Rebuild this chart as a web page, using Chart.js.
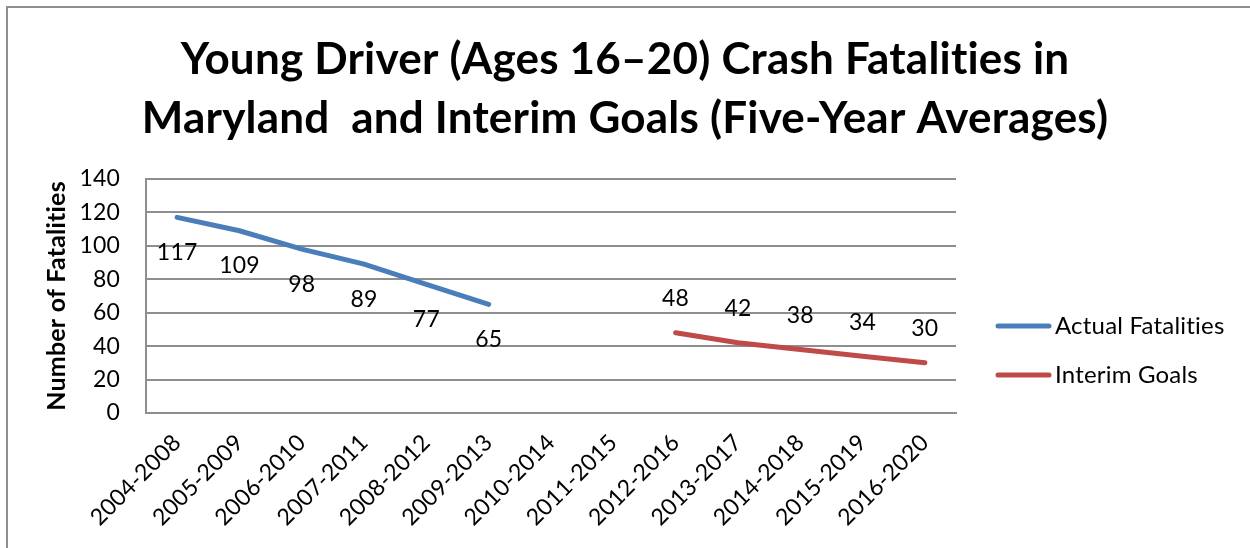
<!DOCTYPE html>
<html>
<head>
<meta charset="utf-8">
<script src="https://cdn.jsdelivr.net/npm/chart.js@4.4.0/dist/chart.umd.min.js"></script>
<style>
  html, body { margin: 0; padding: 0; background: #fff; }
  #wrap { position: relative; width: 1250px; height: 548px; }
  #frame { position: absolute; left: 6px; top: 6px; width: 1300px; height: 600px; border: 2px solid #8e8e8e; box-sizing: border-box; }
  canvas { position: absolute; left: 0; top: 0; }
</style>
</head>
<body>
<div id="wrap">
  <div id="frame"></div>
  <canvas id="chart" width="1250" height="548"></canvas>
</div>
<script>
const periods = ["2004-2008", "2005-2009", "2006-2010", "2007-2011", "2008-2012", "2009-2013",
  "2010-2014", "2011-2015", "2012-2016", "2013-2017", "2014-2018", "2015-2019", "2016-2020"];
const actual = [117, 109, 98, 89, 77, 65, null, null, null, null, null, null, null];
const goals = [null, null, null, null, null, null, null, null, 48, 42, 38, 34, 30];
const yTicks = [0, 20, 40, 60, 80, 100, 120, 140];

const FONT = "Lato, 'Open Sans', sans-serif";

// tiny letter spacing switches off Lato's "ti" ligature
const noLigatures = {
  id: "noLigatures",
  beforeDraw(chart) { chart.ctx.letterSpacing = "0.2px"; }
};

// value labels: actual below the point, goals above
const valueLabels = {
  id: "valueLabels",
  afterDatasetsDraw(chart) {
    const ctx = chart.ctx;
    ctx.save();
    ctx.font = "23px " + FONT;
    ctx.fillStyle = "#000";
    ctx.textAlign = "center";
    ctx.textBaseline = "middle";
    chart.data.datasets.forEach((ds, i) => {
      const meta = chart.getDatasetMeta(i);
      meta.data.forEach((pt, j) => {
        const v = ds.data[j];
        if (v == null) return;
        const dy = i === 0 ? 35 : -34;
        ctx.fillText(String(v), pt.x, pt.y + dy);
      });
    });
    ctx.restore();
  }
};

// legend drawn by hand so it sits where the original one does
const sideLegend = {
  id: "sideLegend",
  afterDraw(chart) {
    const ctx = chart.ctx;
    const rows = [326, 375];
    ctx.save();
    ctx.font = "24px " + FONT;
    ctx.textAlign = "left";
    ctx.textBaseline = "middle";
    chart.data.datasets.forEach((ds, i) => {
      const y = rows[i];
      ctx.strokeStyle = ds.borderColor;
      ctx.lineWidth = 5;
      ctx.lineCap = "round";
      ctx.beginPath();
      ctx.moveTo(998, y);
      ctx.lineTo(1049, y);
      ctx.stroke();
      ctx.fillStyle = "#000";
      ctx.fillText(ds.label, 1055, y);
    });
    ctx.restore();
  }
};

new Chart(document.getElementById("chart"), {
  type: "line",
  data: {
    labels: periods,
    datasets: [
      {
        label: "Actual Fatalities",
        data: actual,
        borderColor: "#4a7ebb",
        backgroundColor: "#4a7ebb",
        borderWidth: 5,
        borderCapStyle: "round",
        pointRadius: 0,
        tension: 0
      },
      {
        label: "Interim Goals",
        data: goals,
        borderColor: "#be4b48",
        backgroundColor: "#be4b48",
        borderWidth: 5,
        borderCapStyle: "round",
        pointRadius: 0,
        tension: 0
      }
    ]
  },
  options: {
    responsive: false,
    animation: false,
    layout: { padding: 0 },
    plugins: {
      title: {
        display: true,
        text: ["Young Driver (Ages 16\u201320) Crash Fatalities in", "Maryland  and Interim Goals (Five-Year Averages)"],
        color: "#000",
        font: { family: FONT, size: 44, weight: "bold", lineHeight: 1.34 },
        padding: { top: 30, bottom: 31 }
      },
      legend: { display: false },
      tooltip: { enabled: false }
    },
    scales: {
      x: {
        offset: true,
        grid: { display: false, drawTicks: false },
        border: { color: "#8e8e8e", width: 2 },
        ticks: {
          color: "#000",
          font: { family: FONT, size: 23 },
          minRotation: 45,
          maxRotation: 45,
          padding: 16,
          autoSkip: false
        },
        afterFit(scale) { scale.height = 135; }
      },
      y: {
        min: 0,
        max: 140,
        afterBuildTicks(scale) { scale.ticks = yTicks.map(v => ({ value: v })); },
        grid: { color: "#8e8e8e", lineWidth: 2, drawTicks: false },
        border: { color: "#8e8e8e", width: 2 },
        ticks: {
          color: "#000",
          font: { family: FONT, size: 23 },
          padding: 26
        },
        title: {
          display: true,
          text: "Number of Fatalities",
          color: "#000",
          font: { family: FONT, size: 25, weight: "bold" },
          padding: { top: 42, bottom: 0 }
        },
        afterFit(scale) { scale.width = 146; }
      },
      // empty right-hand axis that keeps room for the legend
      legendSpace: {
        position: "right",
        min: 0,
        max: 140,
        grid: { display: false, drawTicks: false },
        border: { display: false },
        ticks: { display: false },
        afterFit(scale) { scale.width = 294; }
      }
    }
  },
  plugins: [noLigatures, valueLabels, sideLegend]
});
</script>
</body>
</html>
